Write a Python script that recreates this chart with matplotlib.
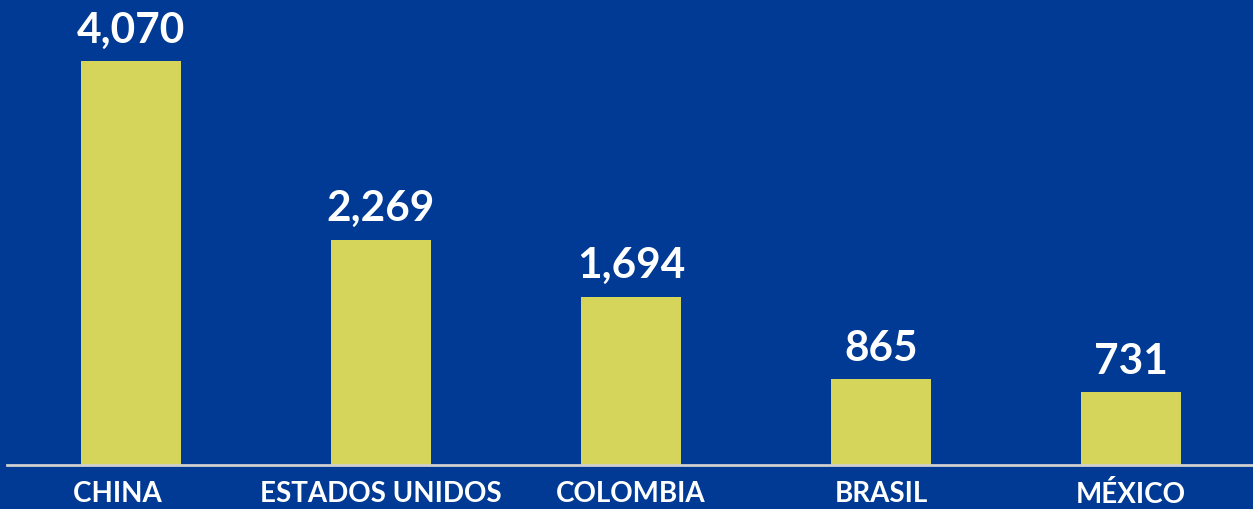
import matplotlib
matplotlib.use('Agg')
import matplotlib.pyplot as plt

plt.rcParams['font.family'] = ['Lato', 'DejaVu Sans']

paises = ['CHINA    ', 'ESTADOS UNIDOS', 'COLOMBIA', 'BRASIL', 'MÉXICO']
valores = [4070, 2269, 1694, 865, 731]
etiquetas = ['4,070', '2,269', '1,694', '865', '731']

fondo = '#003A94'
color_barra = '#D4D55A'

fig = plt.figure(figsize=(12.53, 5.10), dpi=100, facecolor=fondo)
ax = fig.add_axes([7 / 1253, 44 / 510, 1246 / 1253, 466 / 510])
ax.set_facecolor(fondo)

x = range(len(paises))
barras = ax.bar(x, valores, width=0.4, color=color_barra)

for b, txt in zip(barras, etiquetas):
    ax.annotate(txt, (b.get_x() + b.get_width() / 2, b.get_height()),
                xytext=(0, 9), textcoords='offset points',
                ha='center', va='bottom', color='white',
                fontsize=30.5, fontweight='bold')

ax.set_xlim(-0.496, 4.488)
ax.set_ylim(0, 4695)
ax.set_xticks(list(x))
ax.set_xticklabels(paises, color='white', fontsize=20, fontweight='bold')
ax.tick_params(axis='x', length=0, pad=11)
ax.set_yticks([])

for lado in ['top', 'right', 'left']:
    ax.spines[lado].set_visible(False)
ax.spines['bottom'].set_color('#D0D0D0')
ax.spines['bottom'].set_linewidth(2)

plt.savefig('out.png', dpi=100, facecolor=fondo)
